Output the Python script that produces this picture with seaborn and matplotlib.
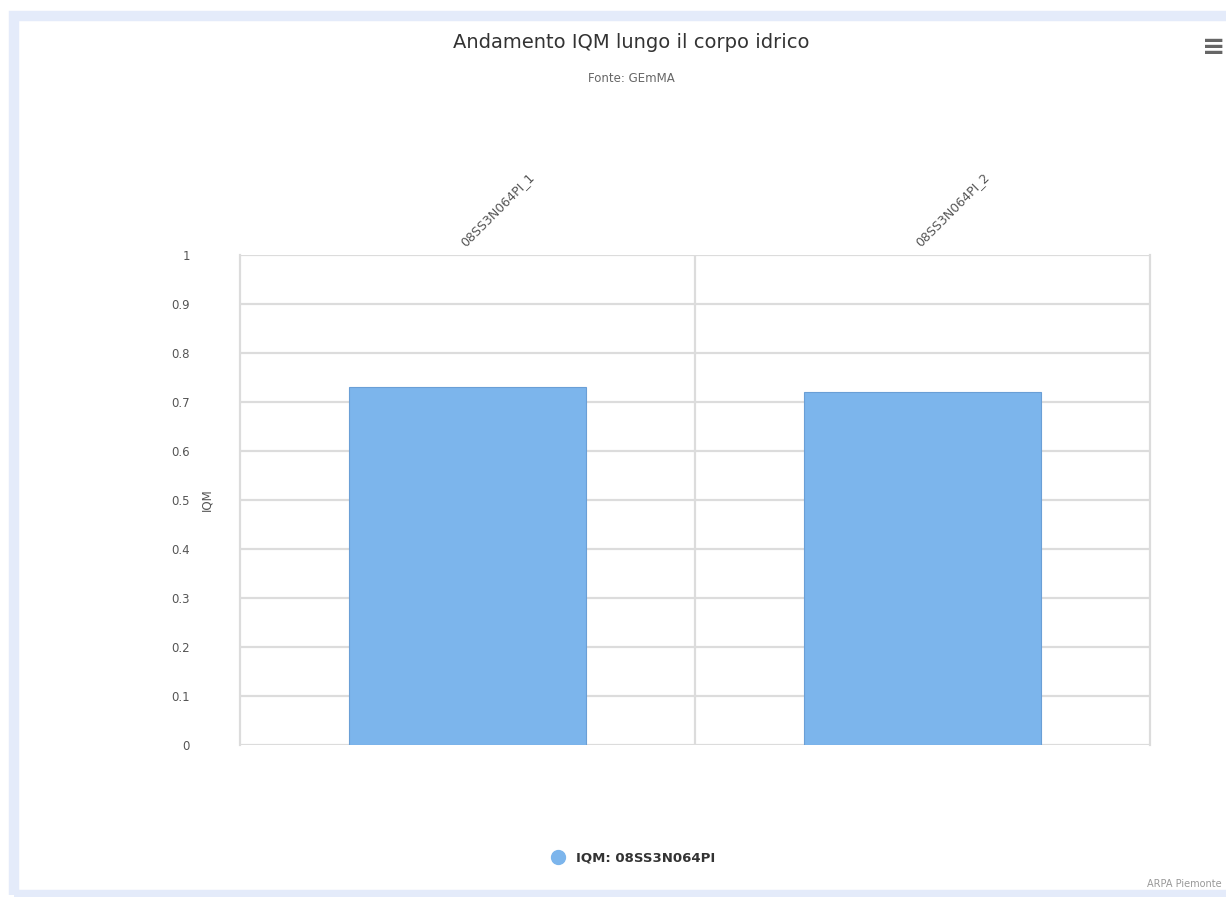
import matplotlib
matplotlib.use("Agg")
import matplotlib.pyplot as plt
from matplotlib.lines import Line2D
from matplotlib.patches import Rectangle
import seaborn as sns
import pandas as pd

# Data
stations = ["08SS3N064PI_1", "08SS3N064PI_2"]
iqm_values = [0.73, 0.72]
series_name = "IQM: 08SS3N064PI"
y_ticks = [0, 0.1, 0.2, 0.3, 0.4, 0.5, 0.6, 0.7, 0.8, 0.9, 1]
y_tick_labels = ["0", "0.1", "0.2", "0.3", "0.4", "0.5", "0.6", "0.7", "0.8", "0.9", "1"]

df = pd.DataFrame({"station": stations, "IQM": iqm_values})

sns.set_theme(style="white")
plt.rcParams["font.family"] = ["DejaVu Sans"]

BAR = "#7cb5ec"
GRID = "#dcdcdc"
W, H = 1226, 897

fig = plt.figure(figsize=(W / 100, H / 100), dpi=100)
fig.patch.set_facecolor("white")

# light border of the chart container (left, top and bottom edges)
fig.patches.append(Rectangle((14 / W, 1 - 895 / H), 1.2, (895 - 16.5) / H,
                             transform=fig.transFigure, facecolor="none",
                             edgecolor="#e4ebfa", linewidth=7.5, zorder=0))

ax = fig.add_axes([240 / W, 1 - 745 / H, 910 / W, 490 / H])
sns.barplot(data=df, x="station", y="IQM", color=BAR, width=0.52,
            saturation=1, ax=ax, zorder=3)
for p in ax.patches:
    p.set_edgecolor("#6a9fd6")
    p.set_linewidth(0.8)

ax.set_ylim(0, 1)
ax.set_xlim(-0.5, 1.5)
ax.set_yticks(y_ticks)
ax.set_yticklabels(y_tick_labels, fontsize=8.5, color="#555555")
ax.yaxis.grid(True, color=GRID, linewidth=1.6, zorder=0)
ax.axvline(0.5, color=GRID, linewidth=1.6, zorder=1)
ax.set_axisbelow(True)

ax.xaxis.tick_top()
ax.set_xlabel("")
ax.set_xticks([0, 1])
ax.set_xticklabels(stations, rotation=45, ha="left", va="bottom",
                   fontsize=9, color="#555555", rotation_mode="anchor")
ax.tick_params(axis="x", length=0, pad=4)
ax.tick_params(axis="y", length=0, pad=36)

ax.set_ylabel("IQM", fontsize=8.5, color="#555555", labelpad=-30)

for side in ["top", "bottom"]:
    ax.spines[side].set_visible(False)
for side in ["left", "right"]:
    ax.spines[side].set_color(GRID)
    ax.spines[side].set_linewidth(1.6)

# Title and subtitle
fig.text(0.515, 1 - 43 / H, "Andamento IQM lungo il corpo idrico",
         ha="center", va="center", fontsize=14, color="#333333")
fig.text(0.515, 1 - 78 / H, "Fonte: GEmMA",
         ha="center", va="center", fontsize=8.5, color="#666666")

# Menu icon
fig.text(1214 / W, 1 - 47 / H, "\u2261", ha="center", va="center",
         fontsize=20, color="#666666", fontweight="bold")

# Legend
handle = Line2D([], [], marker="o", linestyle="none", markersize=10,
                markerfacecolor=BAR, markeredgecolor=BAR)
leg = fig.legend([handle], [series_name], loc="center",
                 bbox_to_anchor=(630 / W, 1 - 858 / H), frameon=False,
                 handletextpad=0.3, prop={"size": 9.5, "weight": "bold"})
for t in leg.get_texts():
    t.set_color("#333333")

# Credits
fig.text(1222 / W, 1 - 884 / H, "ARPA Piemonte", ha="right", va="center",
         fontsize=7, color="#999999")

fig.savefig("out.png", dpi=100, facecolor="white")
